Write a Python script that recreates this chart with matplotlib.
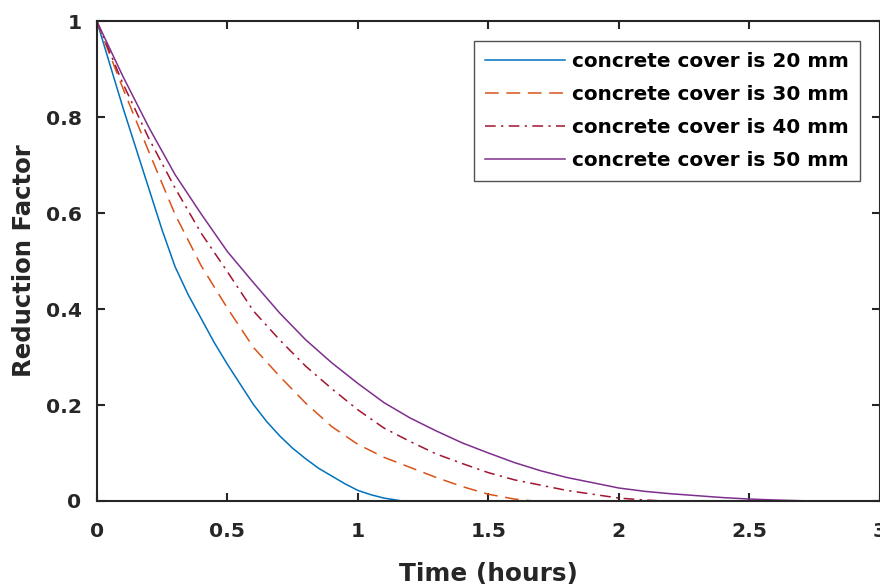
import numpy as np
import matplotlib
matplotlib.use("Agg")
import matplotlib.pyplot as plt

# --- Reduction factor vs. fire exposure time for each concrete cover ---
t_20 = [0, 0.05, 0.1, 0.15, 0.2, 0.25, 0.3, 0.35, 0.4, 0.45, 0.5, 0.55, 0.6, 0.65,
        0.7, 0.75, 0.8, 0.85, 0.9, 0.95, 1.0, 1.05, 1.1, 1.17]
r_20 = [1.0, 0.91, 0.82, 0.735, 0.65, 0.565, 0.488, 0.43, 0.38, 0.33, 0.285, 0.243,
        0.201, 0.166, 0.136, 0.11, 0.088, 0.068, 0.052, 0.036, 0.022, 0.013, 0.006, 0.0]

t_30 = [0, 0.1, 0.2, 0.3, 0.4, 0.5, 0.6, 0.7, 0.8, 0.9, 1.0, 1.1, 1.2, 1.3, 1.4, 1.5, 1.6, 1.67]
r_30 = [1.0, 0.86, 0.727, 0.597, 0.49, 0.402, 0.32, 0.26, 0.204, 0.155, 0.118, 0.091,
        0.07, 0.049, 0.03, 0.014, 0.004, 0.0]

t_40 = [0, 0.1, 0.2, 0.3, 0.4, 0.5, 0.6, 0.7, 0.8, 0.9, 1.0, 1.1, 1.2, 1.3, 1.4, 1.5,
        1.6, 1.7, 1.8, 1.9, 2.0, 2.1, 2.17]
r_40 = [1.0, 0.87, 0.755, 0.652, 0.558, 0.478, 0.396, 0.336, 0.281, 0.234, 0.19, 0.152,
        0.124, 0.098, 0.078, 0.059, 0.044, 0.033, 0.022, 0.014, 0.006, 0.002, 0.0]

t_50 = [0, 0.1, 0.2, 0.3, 0.4, 0.5, 0.6, 0.7, 0.8, 0.9, 1.0, 1.1, 1.2, 1.3, 1.4, 1.5,
        1.6, 1.7, 1.8, 1.9, 2.0, 2.1, 2.2, 2.3, 2.4, 2.5, 2.6, 2.7, 2.75]
r_50 = [1.0, 0.885, 0.778, 0.68, 0.598, 0.52, 0.455, 0.392, 0.336, 0.288, 0.245, 0.205,
        0.173, 0.146, 0.121, 0.10, 0.08, 0.063, 0.049, 0.038, 0.027, 0.02, 0.015, 0.011,
        0.007, 0.004, 0.002, 0.0005, 0.0]

labels = ["concrete cover is 20 mm", "concrete cover is 30 mm",
          "concrete cover is 40 mm", "concrete cover is 50 mm"]
x_ticks = [0, 0.5, 1, 1.5, 2, 2.5, 3]
x_ticklabels = ["0", "0.5", "1", "1.5", "2", "2.5", "3"]
y_ticks = [0, 0.2, 0.4, 0.6, 0.8, 1]
y_ticklabels = ["0", "0.2", "0.4", "0.6", "0.8", "1"]

plt.rcParams["font.family"] = ["DejaVu Sans"]
plt.rcParams["font.weight"] = "bold"

axis_col = "#262626"
fig = plt.figure(figsize=(8.8, 5.88), dpi=100)
ax = fig.add_axes([0.110, 0.148, 0.890, 0.816])

ax.plot(t_20, r_20, color="#0072BD", lw=1.1, label=labels[0])
ax.plot(t_30, r_30, color="#D95319", lw=1.1, dashes=(9, 5), label=labels[1])
ax.plot(t_40, r_40, color="#A2142F", lw=1.1, dashes=(7, 3.5, 1.5, 3.5), label=labels[2])
ax.plot(t_50, r_50, color="#7E2F8E", lw=1.1, label=labels[3])

ax.set_xlim(0, 3)
ax.set_ylim(0, 1)
ax.set_xticks(x_ticks)
ax.set_xticklabels(x_ticklabels)
ax.set_yticks(y_ticks)
ax.set_yticklabels(y_ticklabels)

for s in ax.spines.values():
    s.set_linewidth(1.5)
    s.set_color(axis_col)
ax.tick_params(direction="in", top=True, right=True, length=6, width=1.5,
               colors=axis_col, labelsize=14.6)
ax.tick_params(axis="x", pad=15)
ax.tick_params(axis="y", pad=11)

ax.set_xlabel("Time (hours)", fontsize=17.8, fontweight="bold", color=axis_col, labelpad=15)
ax.set_ylabel("Reduction Factor", fontsize=17.6, fontweight="bold", color=axis_col, labelpad=7)

leg = ax.legend(loc="upper right", fontsize=14.4, frameon=True, fancybox=False,
                handlelength=4.0, handletextpad=0.35, borderaxespad=1.0,
                labelspacing=0.7, borderpad=0.55)
leg.get_frame().set_edgecolor("#262626")
leg.get_frame().set_linewidth(1.0)
for txt in leg.get_texts():
    txt.set_color("black")

fig.savefig("out.png", dpi=100)
